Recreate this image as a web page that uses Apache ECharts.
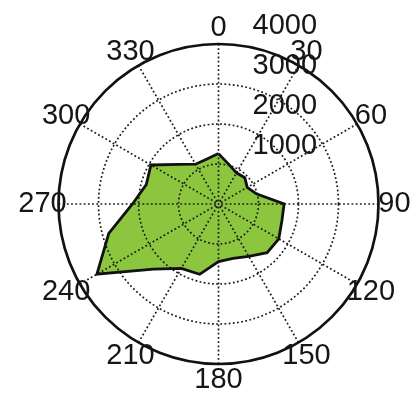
<!DOCTYPE html>
<html>
<head>
<meta charset="utf-8">
<script src="https://cdn.jsdelivr.net/npm/echarts@6/dist/echarts.min.js"></script>
<style>
  html, body { margin: 0; padding: 0; background: #ffffff; }
  #chart { width: 417px; height: 397px; }
</style>
</head>
<body>
<div id="chart"></div>
<script>
// Direction (degrees, clockwise from north) and magnitude of each sector
const directions = [0, 15, 30, 45, 60, 75, 90, 105, 120, 135, 150, 165,
                    180, 195, 210, 225, 240, 255, 270, 285, 300, 315, 330, 345];
const magnitudes = [1260, 1020, 900, 930, 830, 980, 1640, 1640, 1740, 1720, 1510, 1410,
                    1440, 1820, 1860, 2300, 3510, 2840, 2150, 1870, 1950, 1400, 1150, 1160];

// Axis ticks
const angleTicks = [0, 30, 60, 90, 120, 150, 180, 210, 240, 270, 300, 330];
const radiusTicks = [1000, 2000, 3000, 4000];

const radiusMax = 4000;
const textFont = 'Liberation Sans, Arial, Helvetica, sans-serif';
const textSize = 29;
const textColor = '#161616';
const gridColor = '#1c1c1c';
const gridDots = [1.8, 2.4];

// Closed outline: repeat the first sector at 360 degrees
const outline = directions.map((d, i) => [magnitudes[i], d]);
outline.push([magnitudes[0], 360]);

// Angle labels sit centred just outside the rim (10% beyond the outer ring)
const angleLabelPoints = angleTicks.map(a => [radiusMax * 1.1, a]);

const chart = echarts.init(document.getElementById('chart'), null, { renderer: 'canvas' });

chart.setOption({
  backgroundColor: '#ffffff',
  animation: false,
  polar: { center: [218.5, 204], radius: 160 },
  angleAxis: {
    type: 'value',
    min: 0,
    max: 360,
    interval: 30,
    startAngle: 90,
    clockwise: true,
    zlevel: 1,
    axisLine: { show: true, lineStyle: { color: '#111111', width: 2.7 } },
    axisTick: { show: false },
    axisLabel: { show: false },
    splitLine: { show: true, lineStyle: { color: gridColor, width: 1.7, type: gridDots } }
  },
  radiusAxis: {
    type: 'value',
    min: 0,
    max: radiusMax,
    interval: 1000,
    zlevel: 1,
    axisLine: { show: false },
    axisTick: { show: false },
    axisLabel: {
      show: true,
      showMinLabel: false,
      margin: -34,
      fontSize: textSize,
      fontFamily: textFont,
      color: textColor,
      align: 'left',
      verticalAlign: 'bottom',
      padding: [0, 0, 4, 0],
      formatter: v => (radiusTicks.indexOf(v) >= 0 ? String(v) : '')
    },
    splitLine: {
      show: true,
      lineStyle: { color: [gridColor, gridColor, gridColor, gridColor, 'rgba(0,0,0,0)'], width: 1.7, type: gridDots }
    }
  },
  series: [
    {
      name: 'area',
      type: 'line',
      coordinateSystem: 'polar',
      data: outline,
      symbol: 'none',
      zlevel: 0,
      silent: true,
      lineStyle: { width: 0 },
      areaStyle: { color: '#8cc63f', opacity: 1 }
    },
    {
      name: 'outline',
      type: 'line',
      coordinateSystem: 'polar',
      data: outline,
      symbol: 'none',
      zlevel: 2,
      silent: true,
      lineStyle: { color: '#111111', width: 2.8, join: 'miter' }
    },
    {
      name: 'angleLabels',
      type: 'scatter',
      coordinateSystem: 'polar',
      data: angleLabelPoints,
      symbolSize: 0,
      clip: false,
      silent: true,
      zlevel: 2,
      itemStyle: { opacity: 1 },
      label: {
        show: true,
        position: 'inside',
        fontSize: textSize,
        fontFamily: textFont,
        color: textColor,
        align: 'center',
        verticalAlign: 'middle',
        formatter: p => String(p.data[1])
      }
    }
  ]
});
</script>
</body>
</html>
